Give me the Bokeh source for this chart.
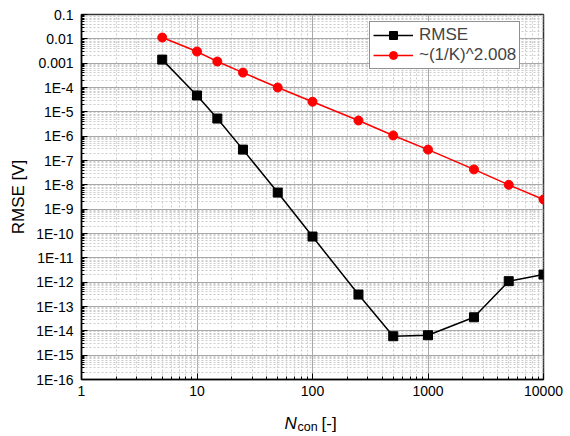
from bokeh.plotting import figure
from bokeh.layouts import column
from bokeh.models import FixedTicker, CustomJSTickFormatter, Legend, LegendItem
from bokeh.embed import file_html
from bokeh.resources import INLINE
from bokeh.core.properties import value

n_con = [5, 10, 15, 25, 50, 100, 250, 500, 1000, 2500, 5000, 10000]
rmse = [1.4e-3, 4.7e-5, 5.3e-6, 2.8e-7, 4.8e-9, 7.5e-11, 3.1e-13, 6.0e-15, 6.6e-15, 3.6e-14, 1.1e-12, 2.05e-12]
fit = [1.13e-2, 3.0e-3, 1.17e-3, 4.1e-4, 1.0e-4, 2.6e-5, 4.4e-6, 1.07e-6, 2.8e-7, 4.3e-8, 1.0e-8, 2.5e-9]

x_major = [1, 10, 100, 1000, 10000]
y_major = [10.0 ** e for e in range(-16, 0)]
x_minor = [m * 10.0 ** e for e in range(0, 4) for m in range(2, 10)]
y_minor = [m * 10.0 ** e for e in range(-16, -1) for m in range(2, 10)]

series_labels = ["RMSE", "~(1/K)^2.008"]
y_title = "RMSE [V]"
x_title_parts = ["N", "con", "[-]"]

FONT = "Liberation Sans"

p = figure(width=570, height=410, x_axis_type="log", y_axis_type="log",
           x_range=(1, 10000), y_range=(1e-16, 0.1),
           output_backend="svg", toolbar_location=None,
           min_border_left=81, min_border_right=27, min_border_top=14, min_border_bottom=31)
p.background_fill_color = "white"
p.border_fill_color = "white"
p.outline_line_color = "#333333"
p.outline_line_width = 1.5

p.xaxis.ticker = FixedTicker(ticks=x_major, minor_ticks=x_minor)
p.yaxis.ticker = FixedTicker(ticks=y_major, minor_ticks=y_minor)
p.xaxis.formatter = CustomJSTickFormatter(code="return Math.round(tick).toString();")
p.yaxis.formatter = CustomJSTickFormatter(code="""
const e = Math.round(Math.log10(tick));
if (e >= -3) { return (Math.pow(10, e)).toFixed(-e); }
return "1E" + e;
""")

for ax in (p.xaxis, p.yaxis):
    ax.major_tick_in = 6
    ax.major_tick_out = 0
    ax.minor_tick_in = 3
    ax.minor_tick_out = 0
    ax.axis_line_color = "black"
    ax.axis_line_width = 1.5
    ax.major_tick_line_color = "black"
    ax.minor_tick_line_color = "black"
    ax.major_label_text_font = FONT
    ax.major_label_text_font_size = "14px"
    ax.major_label_text_color = "black"

p.yaxis.major_label_standoff = 8
p.xaxis.major_label_standoff = 6
p.yaxis.axis_label = y_title
p.yaxis.axis_label_text_font = FONT
p.yaxis.axis_label_text_font_size = "17px"
p.yaxis.axis_label_text_font_style = "normal"
p.yaxis.axis_label_text_color = "black"
p.yaxis.axis_label_standoff = 5

p.xgrid.grid_line_color = "#a8a8a8"
p.ygrid.grid_line_color = "#a8a8a8"
p.xgrid.grid_line_width = 1
p.ygrid.grid_line_width = 1
p.xgrid.minor_grid_line_color = "#cccccc"
p.ygrid.minor_grid_line_color = "#cccccc"
p.xgrid.minor_grid_line_dash = "2 2"
p.ygrid.minor_grid_line_dash = "2 2"

l1 = p.line(n_con, rmse, line_color="black", line_width=1.5)
m1 = p.scatter(n_con, rmse, marker="square", size=9, fill_color="black", line_color="black")
l2 = p.line(n_con, fit, line_color="red", line_width=1.5)
m2 = p.scatter(n_con, fit, marker="circle", size=9, fill_color="red", line_color="red")

legend = Legend(items=[LegendItem(label=series_labels[0], renderers=[l1, m1]),
                       LegendItem(label=series_labels[1], renderers=[l2, m2])],
                location=(288, 310))
legend.label_text_font = FONT
legend.label_text_font_size = "17px"
legend.border_line_color = "#222222"
legend.border_line_width = 1
legend.background_fill_alpha = 1
legend.margin = 0
legend.padding = 3
legend.spacing = 0
legend.glyph_width = 40
legend.label_height = 20
legend.glyph_height = 20
legend.label_standoff = 6
p.add_layout(legend)

# x axis title strip (italic N with subscript "con"); the column aligns its frame
# with the main plot's frame (81..543 px), so the range is given in page pixels
q = figure(width=570, height=26, x_range=(81, 543), y_range=(0, 26),
           x_axis_location=None, y_axis_location=None,
           output_backend="svg", toolbar_location=None,
           min_border_left=81, min_border_right=27, min_border_top=0, min_border_bottom=0)
q.grid.visible = False
q.outline_line_color = None
q.background_fill_color = "white"
q.border_fill_color = "white"
q.text(x=[284], y=[13], text=[x_title_parts[0]], text_font=value(FONT), text_font_size="17px",
       text_font_style="italic", text_baseline="alphabetic", text_align="left", text_color="black")
q.text(x=[297], y=[10], text=[x_title_parts[1]], text_font=value(FONT), text_font_size="12.5px",
       text_baseline="alphabetic", text_align="left", text_color="black")
q.text(x=[321], y=[13], text=[x_title_parts[2]], text_font=value(FONT), text_font_size="17px",
       text_baseline="alphabetic", text_align="left", text_color="black")

layout = column(p, q, spacing=0)
open("out.html", "w").write(file_html(layout, INLINE))
